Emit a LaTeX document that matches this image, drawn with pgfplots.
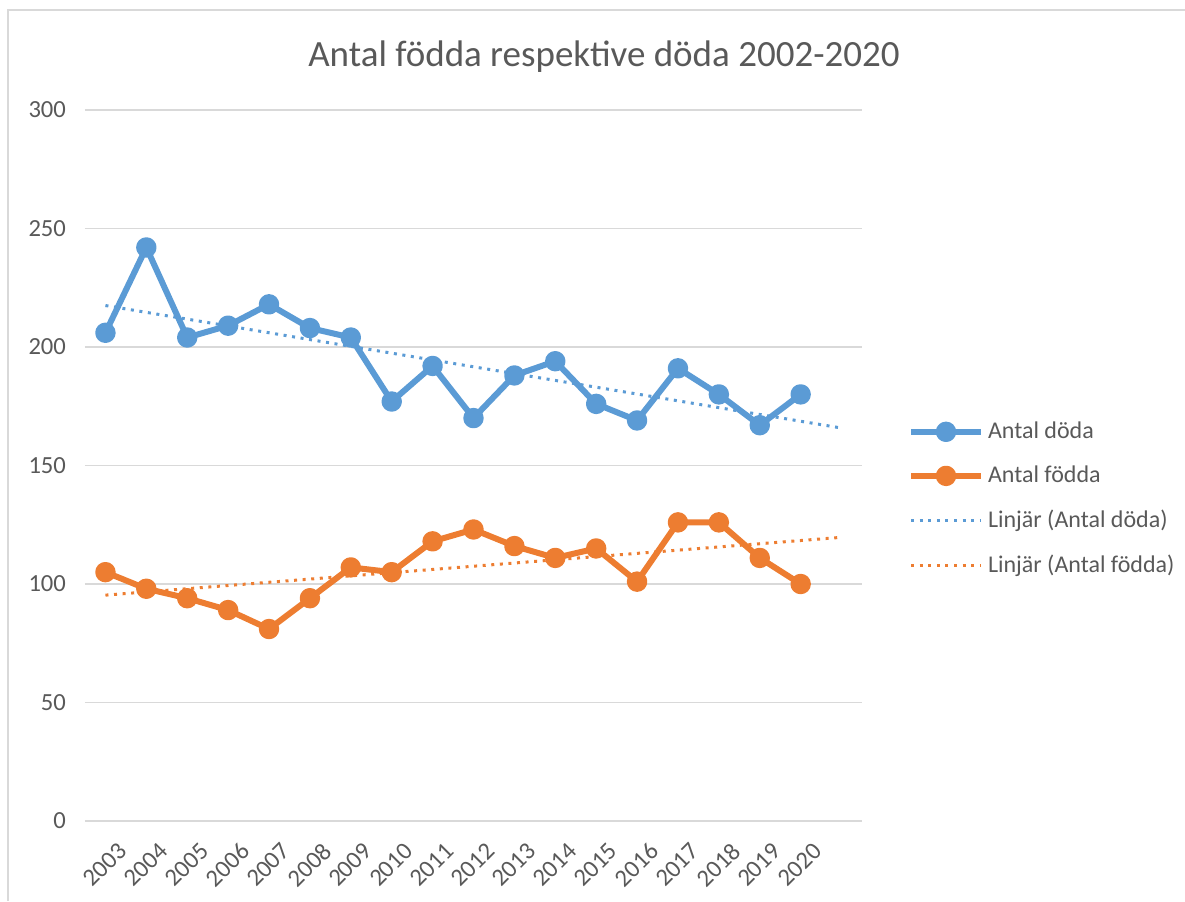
\documentclass[border=0pt]{standalone}
\usepackage{fontspec}
\setmainfont{Carlito}
\usepackage{pgfplots}
\pgfplotsset{compat=1.18}
\definecolor{doda}{HTML}{5B9BD5}
\definecolor{fodda}{HTML}{ED7D31}
\definecolor{txt}{HTML}{595959}
\definecolor{grd}{HTML}{D9D9D9}

\begin{document}
\begin{tikzpicture}
% 1 px of the reference = 0.5pt; origin = lower left of the plot area
\path[use as bounding box] (-42.5pt,-40pt) rectangle (550pt,410.5pt);
\draw[grd, line width=1pt] (-38.5pt,-40pt) -- (-38.5pt,405.5pt) -- (550pt,405.5pt);
\node[text=txt, font=\fontsize{18.5}{22}\selectfont] at (259.5pt,382pt) {Antal födda respektive döda 2002-2020};
\begin{axis}[
    at={(0pt,0pt)}, anchor=south west,
    scale only axis,
    width=388.5pt, height=355.5pt,
    xmin=-0.5, xmax=18.5,
    ymin=0, ymax=300,
    ytick={0,50,...,300},
    xtick={0,...,17},
    xticklabels={2003,2004,2005,2006,2007,2008,2009,2010,2011,2012,2013,2014,2015,2016,2017,2018,2019,2020},
    x tick label style={rotate=45, anchor=north east, inner sep=1pt, xshift=-2pt, yshift=-10pt},
    y tick label style={xshift=-6pt},
    tick label style={font=\fontsize{12.3}{14}\selectfont, text=txt},
    /pgf/number format/assume math mode=true,
    major tick length=0pt,
    ymajorgrids,
    grid style={grd, line width=0.6pt},
    axis line style={draw=none},
    legend cell align=left,
    legend style={at={(1.051,0.573)}, anchor=north west, draw=none, fill=none,
        font=\fontsize{12}{14}\selectfont, text=txt, row sep=8.2pt,
        /tikz/every even column/.append style={column sep=2pt}},
    legend image code/.code={\draw[mark repeat=2, mark phase=2, #1] plot coordinates {(0pt,0pt) (17.5pt,0pt) (35pt,0pt)};},
    clip=false,
]
\draw[grd, line width=0.8pt] (rel axis cs:0,0) -- (rel axis cs:1,0);
\addplot[doda, line width=3pt, mark=*, mark size=3.6pt, line join=round] coordinates {
    (0,206) (1,242) (2,204) (3,209) (4,218) (5,208) (6,204) (7,177) (8,192)
    (9,170) (10,188) (11,194) (12,176) (13,169) (14,191) (15,180) (16,167) (17,180)
};
\addplot[fodda, line width=3pt, mark=*, mark size=3.6pt, line join=round] coordinates {
    (0,105) (1,98) (2,94) (3,89) (4,81) (5,94) (6,107) (7,105) (8,118)
    (9,123) (10,116) (11,111) (12,115) (13,101) (14,126) (15,126) (16,111) (17,100)
};
\addplot[doda, line width=1.5pt, dash pattern=on 1.5pt off 2.8pt] coordinates {
    (0,217.5) (18,165.8)
};
\addplot[fodda, line width=1.5pt, dash pattern=on 1.5pt off 2.8pt] coordinates {
    (0,95.3) (18,119.7)
};
\legend{Antal döda, Antal födda, Linjär (Antal döda), Linjär (Antal födda)}
\end{axis}
\end{tikzpicture}
\end{document}
